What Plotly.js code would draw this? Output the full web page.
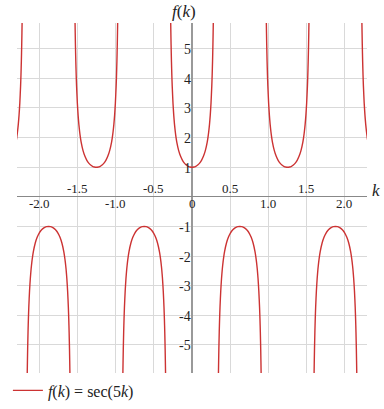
<!DOCTYPE html>
<html>
<head>
<meta charset="utf-8">
<script src="https://cdn.plot.ly/plotly-3.0.1.min.js"></script>
<style>
html,body{margin:0;padding:0;background:#fff;}
#chart{width:384px;height:409px;}
</style>
</head>
<body>
<div id="chart"></div>
<script>
// Branch shape: distance from the branch centre (k) and |f(k)|
var branchOffsets = [0, 0.025, 0.05, 0.075, 0.1, 0.125, 0.15, 0.175, 0.2, 0.21, 0.22, 0.23, 0.24, 0.25, 0.26, 0.265, 0.27, 0.275, 0.28, 0.29];
var branchValues  = [1, 1.008, 1.032, 1.075, 1.139, 1.233, 1.367, 1.560, 1.851, 2.010, 2.205, 2.448, 2.760, 3.171, 3.738, 4.108, 4.566, 5.141, 5.883, 8.30];
// Branch centres (k at the turning points) and whether the branch opens up (+1) or down (-1)
var branchCenters = [-2.513, -1.885, -1.257, -0.628, 0, 0.628, 1.257, 1.885, 2.513];
var branchSigns   = [1, -1, 1, -1, 1, -1, 1, -1, 1];

// Tick labels
var xTickVals = [-2, -1.5, -1, -0.5, 0, 0.5, 1, 1.5, 2];
var xTickText = ['-2.0', '-1.5', '-1.0', '-0.5', '0', '0.5', '1.0', '1.5', '2.0'];
var yTickVals = [-5, -4, -3, -2, -1, 1, 2, 3, 4, 5];
var yTickText = ['-5', '-4', '-3', '-2', '-1', '1', '2', '3', '4', '5'];

var seriesName = '<i>f</i>(<i>k</i>) = sec(5<i>k</i>)';

var xs = [], ys = [];
branchCenters.forEach(function (c, b) {
  var s = branchSigns[b];
  for (var i = branchOffsets.length - 1; i >= 0; i--) {
    xs.push(c - branchOffsets[i]); ys.push(s * branchValues[i]);
  }
  for (var j = 1; j < branchOffsets.length; j++) {
    xs.push(c + branchOffsets[j]); ys.push(s * branchValues[j]);
  }
  xs.push(null); ys.push(null);
});

var serif = '"Liberation Serif", "DejaVu Serif", serif';
var trace = {
  x: xs, y: ys, type: 'scatter', mode: 'lines',
  line: {color: '#cc3333', width: 1.4, shape: 'spline', smoothing: 0.6},
  connectgaps: false,
  name: seriesName, hoverinfo: 'skip'
};

var annotations = [];
xTickVals.forEach(function (v, i) {
  var half = Math.abs(v * 2) % 2 === 1;
  annotations.push({
    x: v, y: 0, xref: 'x', yref: 'y', text: xTickText[i], showarrow: false,
    xanchor: 'center', yanchor: half ? 'bottom' : 'top', yshift: half ? -1 : 3,
    font: {family: serif, size: 13, color: '#222'}
  });
});
yTickVals.forEach(function (v, i) {
  annotations.push({
    x: 0, y: v, xref: 'x', yref: 'y', text: yTickText[i], showarrow: false,
    xanchor: 'right', yanchor: 'middle', xshift: 1, yshift: -1,
    font: {family: serif, size: 14, color: '#222'}
  });
});
annotations.push({
  x: 0, y: 1, xref: 'x', yref: 'paper', text: '<i>f</i>(<i>k</i>)', showarrow: false,
  xanchor: 'right', yanchor: 'bottom', xshift: 6, yshift: 0,
  font: {family: serif, size: 17, color: '#222'}
});
annotations.push({
  x: 1, y: 0, xref: 'paper', yref: 'y', text: '<i>k</i>', showarrow: false,
  xanchor: 'left', yanchor: 'middle', xshift: 3, yshift: 6,
  font: {family: serif, size: 17, color: '#222'}
});

var layout = {
  width: 384, height: 409,
  margin: {l: 17, r: 17, t: 23, b: 36, pad: 0, autoexpand: false},
  paper_bgcolor: '#fff', plot_bgcolor: '#fff',
  showlegend: true,
  legend: {
    orientation: 'h', x: -0.026, xanchor: 'left', y: -0.05, yanchor: 'middle',
    font: {family: serif, size: 16, color: '#222'}, itemwidth: 30,
    bgcolor: 'rgba(0,0,0,0)'
  },
  xaxis: {
    range: [-2.3, 2.3], dtick: 0.5, tick0: 0, showgrid: true, gridcolor: '#d9d9d9', gridwidth: 1,
    zeroline: true, zerolinecolor: '#999', zerolinewidth: 2.2,
    showticklabels: false, ticks: '', showline: false, fixedrange: true
  },
  yaxis: {
    range: [-5.95, 5.87], dtick: 1, tick0: 0, showgrid: true, gridcolor: '#d9d9d9', gridwidth: 1,
    zeroline: true, zerolinecolor: '#888', zerolinewidth: 1.3,
    showticklabels: false, ticks: '', showline: false, fixedrange: true
  },
  annotations: annotations
};

Plotly.newPlot('chart', [trace], layout, {displayModeBar: false, staticPlot: true});
</script>
</body>
</html>
